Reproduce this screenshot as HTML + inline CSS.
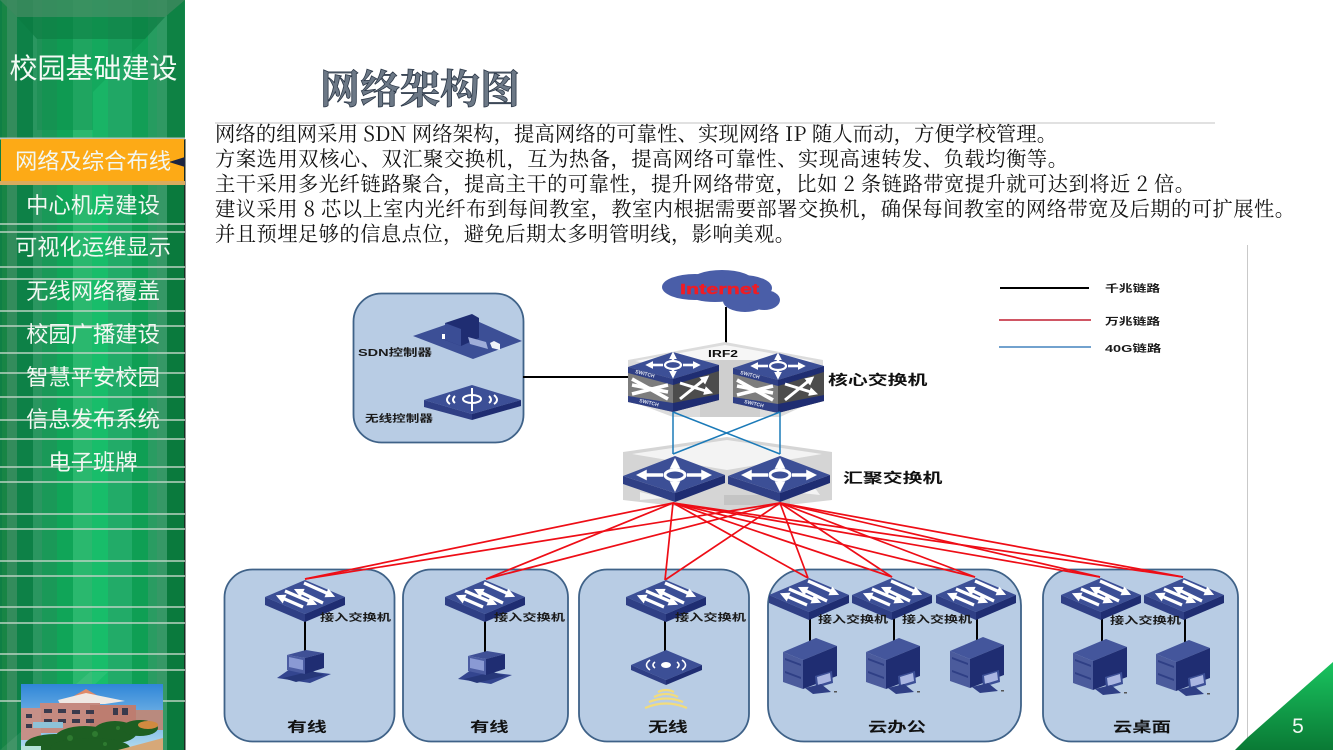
<!DOCTYPE html>
<html lang="zh"><head><meta charset="utf-8"><title>网络架构图</title>
<style>
html,body{margin:0;padding:0;background:#fff;width:1333px;height:750px;overflow:hidden}
svg{display:block}
.m{font-family:"Liberation Sans","Noto Sans CJK SC",sans-serif;fill:#f2f7f2;font-size:22.3px;text-anchor:middle}
.b{font-family:"Noto Serif CJK SC","Liberation Serif",serif;font-size:20.3px;fill:#111}
.l{font-family:"Liberation Sans","Noto Sans CJK SC",sans-serif;font-weight:700;font-size:14px;fill:#111}
.s{font-family:"Liberation Sans","Noto Sans CJK SC",sans-serif;font-weight:700;font-size:10px;fill:#1a1a1a}
.p{fill:#b8cce4;stroke:#3f6288;stroke-width:1.8}
.r{stroke:#ee0d16;stroke-width:1.7;fill:none}
.k{stroke:#000;stroke-width:2;fill:none}
.sw{font-family:"Liberation Sans",sans-serif;font-size:5px;fill:#dfe4f0;font-weight:700}
</style></head><body>
<svg width="1333" height="750" viewBox="0 0 1333 750" xmlns="http://www.w3.org/2000/svg">
<defs>
<linearGradient id="corner" x1="0" y1="0" x2="0" y2="1"><stop offset="0" stop-color="#19c35f"/><stop offset="1" stop-color="#0a7a35"/></linearGradient>
<linearGradient id="sky" x1="0" y1="0" x2="0" y2="1"><stop offset="0" stop-color="#2f86d8"/><stop offset="1" stop-color="#b4dcf0"/></linearGradient>
<marker id="ah" markerWidth="3" markerHeight="3" refX="1.6" refY="1.5" orient="auto"><path d="M0 0L3 1.5L0 3z" fill="#fff"/></marker>
<g id="acc">
<polygon points="0,0 40,17 0,34 -40,17" fill="#3c4f96"/>
<polygon points="-40,17 0,34 0,42 -40,25" fill="#2f3f85"/>
<polygon points="0,34 40,17 40,25 0,42" fill="#1f2d72"/>
<g stroke="#fff" stroke-width="3.2" fill="none">
<line x1="-2" y1="27" x2="-25" y2="17" marker-end="url(#ah)"/>
<line x1="-20" y1="11" x2="8" y2="23" marker-end="url(#ah)"/>
<line x1="18" y1="23" x2="-7" y2="11" marker-end="url(#ah)"/>
<line x1="-1" y1="3" x2="26" y2="15" marker-end="url(#ah)"/>
</g>
</g>
<g id="pc">
<polygon points="-27,28 -14,19 27,24 6,33" fill="#33458f"/>
<polygon points="-21,28 -8,32 20,25 8,21" fill="#263779"/>
<polygon points="-17,5 2,0 20,3 1,8" fill="#3f5096"/>
<polygon points="-17,5 1,8 1,24 -17,20" fill="#4b5ca2"/>
<polygon points="-15,7 -1,10 -1,20 -15,17" fill="#8a9ad4"/>
<polygon points="1,8 20,3 20,18 1,24" fill="#1f2d72"/>
</g>
<g id="srv">
<polygon points="0,14 33,0 54,8 20,22" fill="#44569c"/>
<polygon points="0,14 20,22 20,51 0,44" fill="#4b5b9c"/>
<polygon points="20,22 54,8 54,38 20,51" fill="#1f2d72"/>
<polygon points="2,20 18,26 18,28 2,22" fill="#2f3f85"/>
<polygon points="2,33 18,39 18,41 2,35" fill="#2f3f85"/>
<polygon points="32,38 49,33 50,45 33,50" fill="#3c4f96"/>
<polygon points="34,39 47,35 48,43 35,47" fill="#aab6e2"/>
<polygon points="22,50 38,46 48,54 30,56" fill="#2f3f85"/>
<rect x="51" y="53" width="3" height="1.5" fill="#555"/>
</g>
<g id="core">
<polygon points="-45,15 0,27 0,60 -45,50" fill="#7d7d7d"/>
<polygon points="0,27 46,13 46,48 0,60" fill="#4c4c4c"/>
<polygon points="0,0 46,13 0,27 -45,15" fill="#3c4f96"/>
<polygon points="-45,15 0,27 0,33 -45,21" fill="#2f3f85"/>
<polygon points="0,27 46,13 46,19 0,33" fill="#1f2d72"/>
<polygon points="-45,44 0,51 0,60 -45,50" fill="#2f3f85"/>
<polygon points="0,51 46,42 46,48 0,60" fill="#1f2d72"/>
<g stroke="#fff" stroke-width="3.6" fill="none">
<line x1="-41" y1="27" x2="-5" y2="47"/>
<line x1="-41" y1="42" x2="-5" y2="33"/>
<line x1="-41" y1="33" x2="-5" y2="40"/>
</g>
<g stroke="#fff" stroke-width="3" fill="none">
<line x1="7" y1="47" x2="33" y2="26" marker-end="url(#ah)"/>
<line x1="7" y1="31" x2="36" y2="40" marker-end="url(#ah)"/>
</g>
<g stroke="#fff" stroke-width="2.6" fill="none">
<line x1="-10" y1="13" x2="-24" y2="13" marker-end="url(#ah)"/>
<line x1="10" y1="13" x2="24" y2="13" marker-end="url(#ah)"/>
<line x1="0" y1="9" x2="0" y2="3" marker-end="url(#ah)"/>
<line x1="0" y1="17" x2="0" y2="23" marker-end="url(#ah)"/>
<ellipse cx="0" cy="13" rx="8" ry="4" fill="#3c4f96" stroke-width="2.2"/>
</g>
<text class="sw" transform="translate(-38,21) rotate(14)">SWITCH</text>
<text class="sw" transform="translate(-34,50) rotate(13)">SWITCH</text>
</g>
<g id="agg">
<polygon points="-52,20 0,37 0,46 -52,28" fill="#2f3f85"/>
<polygon points="0,37 50,19 50,27 0,46" fill="#1f2d72"/>
<polygon points="0,0 50,19 0,37 -52,20" fill="#3c4f96"/>
<g stroke="#fff" stroke-width="3.6" fill="none">
<line x1="-12" y1="19" x2="-34" y2="19" marker-end="url(#ah)"/>
<line x1="12" y1="19" x2="32" y2="19" marker-end="url(#ah)"/>
<line x1="0" y1="13" x2="0" y2="7" marker-end="url(#ah)"/>
<line x1="0" y1="25" x2="0" y2="31" marker-end="url(#ah)"/>
<ellipse cx="0" cy="19" rx="10" ry="5" fill="#3c4f96" stroke-width="3"/>
</g>
</g>
</defs>

<!-- sidebar -->
<rect x="0" y="0" width="185" height="750" fill="#0f7f45"/>
<rect x="2" y="0" width="5" height="750" fill="#188545"/>
<rect x="7" y="0" width="10" height="750" fill="#338c5c"/>
<rect x="17" y="0" width="16" height="750" fill="#0d8147"/>
<rect x="33" y="0" width="9" height="750" fill="#2a9660"/>
<rect x="42" y="0" width="15" height="750" fill="#1a9958"/>
<rect x="57" y="0" width="16" height="750" fill="#10a558"/>
<rect x="73" y="0" width="19" height="750" fill="#2ab86e"/>
<rect x="92" y="0" width="16" height="750" fill="#18bd6a"/>
<rect x="108" y="0" width="24" height="750" fill="#22ab68"/>
<rect x="132" y="0" width="16" height="750" fill="#0f9f54"/>
<rect x="148" y="0" width="9" height="750" fill="#2a9c62"/>
<rect x="157" y="0" width="10" height="750" fill="#369866"/>
<rect x="167" y="0" width="17" height="750" fill="#0a7a3d"/>
<rect x="184" y="139" width="1.5" height="611" fill="#1a2a22"/>
<polygon points="0,0 185,0 165,17 17,17" fill="#3c8a5e" opacity=".85"/>
<polygon points="17,17 165,17 145,39 37,39" fill="#0b7c42" opacity=".7"/>
<polygon points="37,39 145,39 93,92 93,130 37,130" fill="#0f8a4c" opacity=".4"/>
<polygon points="145,39 165,17 185,0 185,138 93,138 93,92" fill="#1c9b5c" opacity=".25"/>
<polygon points="0,750 90,672 108,672 25,750" fill="#fff" opacity=".07"/>
<path stroke="#b9d2c2" stroke-width="1.4" fill="none" d="M0 224H185M0 232H185M0 267H185M0 279H185M0 311H185M0 326H185M0 353H185M0 373H185M0 397H185M0 420H185M0 439H185M0 467H185M0 482H185M0 514H185M0 529H185M0 561H185M0 576H185M0 607H185M0 623H185M0 654H185M0 670H185M0 701H185"/>
<rect x="0" y="137.5" width="185" height="2" fill="#b9c4ba"/>
<rect x="1" y="139" width="183" height="42" fill="#fdaa16"/>
<rect x="0" y="181" width="185" height="4" fill="#d9ab5e"/>
<polygon points="169,162 185,157 185,167" fill="#1c2540"/>
<text x="93.5" y="78" font-family="'Liberation Sans','Noto Sans CJK SC',sans-serif" font-size="28" fill="#f4faf5" text-anchor="middle">校园基础建设</text>
<text class="m" x="93" y="169">网络及综合布线</text>
<text class="m" x="93" y="213">中心机房建设</text>
<text class="m" x="93" y="255">可视化运维显示</text>
<text class="m" x="93" y="299">无线网络覆盖</text>
<text class="m" x="93" y="342">校园广播建设</text>
<text class="m" x="93" y="385">智慧平安校园</text>
<text class="m" x="93" y="427">信息发布系统</text>
<text class="m" x="93" y="470">电子班牌</text>
<!-- campus picture -->
<rect x="21" y="684" width="142" height="66" fill="url(#sky)"/>
<polygon points="86,689 72,697 100,697" fill="#e08a68"/>
<polygon points="58,700 86,693 125,701 105,704 60,704" fill="#efe9e4"/>
<rect x="40" y="703" width="60" height="30" fill="#c58a80"/>
<rect x="90" y="705" width="46" height="25" fill="#bd7d70"/>
<rect x="21" y="708" width="20" height="32" fill="#c69088"/>
<rect x="136" y="710" width="27" height="20" fill="#b98a7e"/>
<g fill="#3a3a4c"><rect x="44" y="709" width="8" height="4"/><rect x="58" y="709" width="8" height="4"/><rect x="72" y="710" width="8" height="4"/><rect x="86" y="710" width="8" height="4"/><rect x="44" y="719" width="8" height="4"/><rect x="58" y="719" width="8" height="4"/><rect x="72" y="719" width="8" height="4"/><rect x="86" y="719" width="8" height="4"/><rect x="113" y="708" width="5" height="7"/><rect x="122" y="708" width="6" height="7"/><rect x="26" y="714" width="6" height="4"/><rect x="26" y="724" width="6" height="4"/></g>
<rect x="33" y="722" width="30" height="6" fill="#8ec2d8"/>
<g fill="#1d5f22"><ellipse cx="55" cy="745" rx="30" ry="11"/><ellipse cx="85" cy="738" rx="30" ry="12"/><ellipse cx="115" cy="732" rx="22" ry="11"/><ellipse cx="140" cy="728" rx="18" ry="8"/><ellipse cx="90" cy="748" rx="40" ry="10"/></g>
<g fill="#2e7a30"><circle cx="70" cy="738" r="3"/><circle cx="95" cy="734" r="3"/><circle cx="118" cy="728" r="2"/><circle cx="105" cy="744" r="2"/></g>
<ellipse cx="148" cy="725" rx="10" ry="4" fill="#d08a40"/>
<polygon points="118,750 163,738 163,750" fill="#d7a878"/>
<rect x="21" y="746" width="20" height="4" fill="#b4e2d8"/>

<!-- header -->
<line x1="215" x2="1215" y1="123" y2="123" stroke="#cfcfcf" stroke-width="1.2"/>
<text x="320" y="103" font-family="'Noto Serif CJK SC',serif" font-weight="700" font-size="40" fill="#6c7886" stroke="#2c3848" stroke-width=".8" textLength="200">网络架构图</text>
<text class="b" x="215" y="141" xml:space="preserve" textLength="842">网络的组网采用 SDN 网络架构，提高网络的可靠性、实现网络 IP 随人而动，方便学校管理。</text>
<text class="b" x="215" y="166" textLength="853">方案选用双核心、双汇聚交换机，互为热备，提高网络可靠性、实现高速转发、负载均衡等。</text>
<text class="b" x="215" y="191" xml:space="preserve" textLength="980">主干采用多光纤链路聚合，提高主干的可靠性，提升网络带宽，比如 2 条链路带宽提升就可达到将近 2 倍。</text>
<text class="b" x="215" y="216" xml:space="preserve" textLength="1080">建议采用 8 芯以上室内光纤布到每间教室，教室内根据需要部署交换机，确保每间教室的网络带宽及后期的可扩展性。</text>
<text class="b" x="215" y="241" textLength="580">并且预埋足够的信息点位，避免后期太多明管明线，影响美观。</text>

<!-- diagram frame -->
<line x1="1247.5" x2="1247.5" y1="245" y2="745" stroke="#c9c9c9" stroke-width="1"/>
<!-- corner -->
<polygon points="1333,662 1333,750 1235,750 1247,738" fill="url(#corner)"/>
<text x="1298" y="733" font-family="'Liberation Sans',sans-serif" font-size="21" fill="#f2f8f2" text-anchor="middle">5</text>

<!-- panels -->
<rect class="p" x="353.5" y="293.5" width="170" height="149" rx="28"/>
<rect class="p" x="224.5" y="569.5" width="170" height="172" rx="28"/>
<rect class="p" x="403" y="569.5" width="165" height="172" rx="28"/>
<rect class="p" x="579" y="569.5" width="170" height="172" rx="28"/>
<rect class="p" x="768" y="569.5" width="253" height="172" rx="36"/>
<rect class="p" x="1043" y="569.5" width="195" height="172" rx="28"/>

<!-- black connectors -->
<line class="k" x1="726" y1="307" x2="726" y2="343"/>
<line class="k" x1="523" y1="377" x2="630" y2="377"/>
<line class="k" x1="305" y1="617" x2="305" y2="651"/>
<line class="k" x1="485" y1="617" x2="485" y2="652"/>
<line class="k" x1="665" y1="617" x2="665" y2="653"/>
<line class="k" x1="810" y1="612" x2="810" y2="642"/>
<line class="k" x1="894" y1="612" x2="894" y2="642"/>
<line class="k" x1="977" y1="612" x2="977" y2="642"/>
<line class="k" x1="1102" y1="612" x2="1102" y2="642"/>
<line class="k" x1="1185" y1="612" x2="1185" y2="642"/>

<!-- cloud -->
<g fill="#4a5ea8"><ellipse cx="695" cy="287" rx="33" ry="13"/><ellipse cx="722" cy="282" rx="32" ry="12"/><ellipse cx="742" cy="288" rx="30" ry="13"/><ellipse cx="745" cy="301" rx="22" ry="11"/><ellipse cx="764" cy="300" rx="16" ry="10"/><ellipse cx="715" cy="295" rx="25" ry="7"/></g>
<text x="680" y="294" font-family="'Liberation Sans',sans-serif" font-weight="700" font-size="14.5" fill="#f01c24" stroke="#f01c24" stroke-width=".4" textLength="79" lengthAdjust="spacingAndGlyphs">Internet</text>

<!-- core backplate -->
<polygon points="725,342 823,360 823,397 780,417 673,417 628,400 628,360" fill="#dcdcdc"/>
<polygon points="725,345 815,361 725,378 635,361" fill="#f6f6f6"/>
<polygon points="700,360 760,360 760,417 700,417" fill="#cfcfcf"/>
<text x="708" y="357" font-family="'Liberation Sans',sans-serif" font-weight="700" font-size="10.5" fill="#111" textLength="30" lengthAdjust="spacingAndGlyphs">IRF2</text>
<use href="#core" x="673" y="352"/>
<use href="#core" x="778" y="353"/>

<!-- aggregation backplate -->
<polygon points="727,437 832,452 832,500 727,512 623,500 623,452" fill="#d5d5d5"/>
<polygon points="727,440 822,454 727,470 632,454" fill="#f3f3f3"/>
<polygon points="724,495 790,495 790,505 724,505" fill="#c4c4c4"/>
<polygon points="640,492 665,498 640,500" fill="#f3f3f3"/>
<polygon points="792,492 815,488 820,495" fill="#f3f3f3"/>

<!-- blue links -->
<g stroke="#1b7ab8" stroke-width="1.5" fill="none"><line x1="673" y1="412" x2="673" y2="454"/><line x1="780" y1="412" x2="780" y2="454"/><line x1="673" y1="412" x2="780" y2="454"/><line x1="780" y1="412" x2="673" y2="454"/></g>

<use href="#agg" x="675" y="456"/>
<use href="#agg" x="780" y="456"/>

<!-- red links -->
<g class="r">
<line x1="673" y1="503" x2="305" y2="579"/><line x1="780" y1="503" x2="305" y2="579"/>
<line x1="673" y1="503" x2="486" y2="579"/><line x1="780" y1="503" x2="486" y2="579"/>
<line x1="673" y1="503" x2="665" y2="580"/><line x1="780" y1="503" x2="665" y2="580"/>
<line x1="673" y1="503" x2="808" y2="578"/><line x1="780" y1="503" x2="808" y2="578"/>
<line x1="673" y1="503" x2="892" y2="577"/><line x1="780" y1="503" x2="892" y2="577"/>
<line x1="673" y1="503" x2="975" y2="577"/><line x1="780" y1="503" x2="975" y2="577"/>
<line x1="673" y1="503" x2="1100" y2="577"/><line x1="780" y1="503" x2="1100" y2="577"/>
<line x1="673" y1="503" x2="1183" y2="577"/><line x1="780" y1="503" x2="1183" y2="577"/>
</g>

<!-- access switches -->
<use href="#acc" x="305" y="580"/>
<use href="#acc" x="485" y="580"/>
<use href="#acc" x="666" y="580"/>
<use href="#acc" x="809" y="578"/>
<use href="#acc" x="892" y="578"/>
<use href="#acc" x="976" y="578"/>
<use href="#acc" x="1101" y="578"/>
<use href="#acc" x="1184" y="578"/>

<!-- end devices -->
<use href="#pc" x="304" y="650"/>
<use href="#pc" x="485" y="651"/>
<use href="#srv" x="783" y="638"/>
<use href="#srv" x="866" y="638"/>
<use href="#srv" x="950" y="637"/>
<use href="#srv" x="1073" y="639"/>
<use href="#srv" x="1156" y="640"/>

<!-- AP -->
<polygon points="666,650 702,665 666,680 631,665" fill="#3c4f96"/>
<polygon points="631,665 666,680 666,685 631,670" fill="#2f3f85"/>
<polygon points="666,680 702,665 702,670 666,685" fill="#1f2d72"/>
<g stroke="#fff" stroke-width="1.6" fill="none"><path d="M650,660 Q643,665 650,670"/><path d="M682,660 Q689,665 682,670"/><path d="M655,662 Q651,665 655,668"/><path d="M677,662 Q681,665 677,668"/></g>
<ellipse cx="666" cy="665" rx="5" ry="3" fill="#fff"/>
<g stroke="#f2dc7c" stroke-width="2.2" fill="none"><path d="M658,692 Q666,688 674,692"/><path d="M654,697 Q666,691 678,697"/><path d="M649,702 Q666,695 683,702"/><path d="M645,708 Q666,699 687,708"/></g>

<!-- SDN controllers -->
<polygon points="413,336 468,317 522,341 473,359" fill="#3c4f96"/>
<polygon points="445,323 472,314 479,318 479,338 461,346 445,340" fill="#1f2d72"/>
<polygon points="445,323 461,329 461,346 445,340" fill="#3a4d95"/>
<polygon points="468,337 486,342 488,349 470,344" fill="#9fadd9"/>
<polygon points="490,343 492,348 500,350 500,344 494,341" fill="#f0f2f8"/>
<rect x="442" y="334" width="3" height="5" fill="#fff"/>
<polygon points="424,400 472,385 521,400 472,414" fill="#3c4f96"/>
<polygon points="424,400 472,414 472,420 424,407" fill="#2f3f85"/>
<polygon points="472,414 521,400 521,406 472,420" fill="#1f2d72"/>
<g stroke="#fff" stroke-width="2" fill="none"><ellipse cx="472" cy="399" rx="9" ry="4"/><line x1="472" y1="388" x2="472" y2="411"/><path d="M450,395 Q444,400 450,404"/><path d="M494,395 Q500,400 494,404"/><path d="M455,396 Q451,400 455,403"/><path d="M489,396 Q493,400 489,403"/></g>

<!-- legend -->
<line x1="1000" y1="288" x2="1089" y2="288" stroke="#000" stroke-width="2"/>
<line x1="999" y1="320" x2="1091" y2="320" stroke="#c01f30" stroke-width="1.6"/>
<line x1="999" y1="347" x2="1091" y2="347" stroke="#1f6ab0" stroke-width="1.3"/>
<text class="s" transform="translate(1105,292) scale(1.38,1)">千兆链路</text>
<text class="s" transform="translate(1105,325) scale(1.38,1)">万兆链路</text>
<text class="s" transform="translate(1105,352) scale(1.45,1)">40G链路</text>

<!-- labels -->
<text class="l" transform="translate(828,385) scale(1.42,1)">核心交换机</text>
<text class="l" transform="translate(843,483) scale(1.42,1)">汇聚交换机</text>
<text class="s" transform="translate(358,356) scale(1.45,1)">SDN控制器</text>
<text class="s" transform="translate(365,422) scale(1.36,1)">无线控制器</text>
<text class="s" transform="translate(320,621) scale(1.42,1)">接入交换机</text>
<text class="s" transform="translate(494,621) scale(1.42,1)">接入交换机</text>
<text class="s" transform="translate(675,621) scale(1.42,1)">接入交换机</text>
<text class="s" transform="translate(818,623) scale(1.4,1)">接入交换机</text>
<text class="s" transform="translate(902,623) scale(1.4,1)">接入交换机</text>
<text class="s" transform="translate(1110,624) scale(1.42,1)">接入交换机</text>
<text class="l" transform="translate(287,732) scale(1.42,1)">有线</text>
<text class="l" transform="translate(470,732) scale(1.38,1)">有线</text>
<text class="l" transform="translate(648,732) scale(1.42,1)">无线</text>
<text class="l" transform="translate(868,732) scale(1.38,1)">云办公</text>
<text class="l" transform="translate(1113,732) scale(1.38,1)">云桌面</text>
</svg>
</body></html>
